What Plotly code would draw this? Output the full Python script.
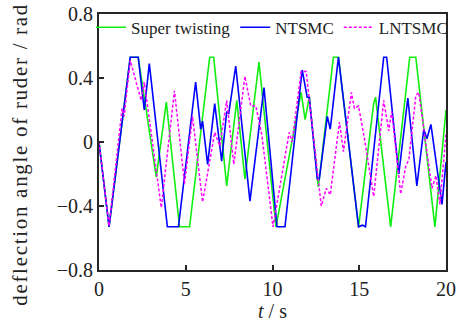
import plotly.graph_objects as go

# Super twisting (green)
t_st = [0, 0.58, 1.80, 2.26, 3.30, 3.88, 4.64, 5.22, 6.38, 6.61, 7.36, 7.94, 8.41, 9.22,
        10.20, 11.65, 11.88, 12.12, 12.64, 13.51, 13.80, 14.96, 15.83, 15.94, 16.81,
        17.91, 18.26, 19.36, 20.0]
y_st = [0, -0.53, 0.53, 0.53, -0.22, 0.25, -0.53, -0.53, 0.53, 0.53, -0.275, 0.26, -0.23, 0.50,
        -0.53, 0.31, 0.14, 0.28, -0.28, 0.53, 0.53, -0.53, 0.24, 0.28, -0.53,
        0.53, 0.53, -0.53, 0.20]

# NTSMC (blue)
t_nt = [0, 0.58, 1.80, 2.26, 2.61, 2.90, 3.94, 4.58, 5.57, 5.86, 5.97, 6.26, 6.67, 7.07,
        7.36, 7.48, 7.88, 8.70, 9.51, 10.26, 10.72, 11.71, 12.00, 12.12, 12.58, 12.70,
        13.16, 13.33, 13.80, 14.96, 15.19, 15.36, 16.41, 16.58, 17.28, 17.80, 18.32,
        18.72, 18.90, 19.13, 19.77, 20.0]
y_nt = [0, -0.53, 0.53, 0.53, 0.20, 0.49, -0.53, -0.53, 0.375, 0.08, 0.13, -0.14, 0.24, -0.12,
        0.19, 0.18, 0.475, -0.37, 0.34, -0.53, -0.53, 0.45, 0.28, 0.28, -0.23, -0.23,
        0.16, 0.08, 0.53, -0.53, -0.52, -0.53, 0.53, 0.53, -0.20, 0.275, -0.275,
        0.08, 0.02, 0.11, -0.39, -0.125]

# LNTSMC (magenta)
t_ln = [0, 0.58, 1.33, 1.45, 1.80, 2.20, 2.43, 2.61, 3.36, 3.59, 4.35, 4.93, 5.39, 5.97,
        6.67, 6.96, 7.36, 7.77, 8.41, 8.75, 9.04, 9.39, 10.03, 10.96, 11.13, 11.65, 11.94,
        12.81, 13.10, 13.33, 13.86, 14.09, 14.55, 14.72, 14.96, 15.30, 15.83, 16.41,
        16.70, 16.87, 17.39, 17.68, 17.86, 18.26, 18.43, 19.19, 19.42, 19.65, 20.0]
y_ln = [0, -0.525, 0.21, 0.16, 0.51, 0.35, 0.26, 0.375, -0.25, -0.41, 0.32, -0.26, 0.16, -0.375,
        0.06, -0.025, 0.26, -0.14, 0.41, 0.225, 0.225, 0.04, -0.53, 0.06, 0.0, 0.44, 0.44,
        -0.40, -0.29, -0.33, 0.125, -0.06, 0.31, 0.21, 0.225, 0.02, -0.34, 0.26,
        0.07, 0.19, -0.325, -0.15, -0.11, 0.29, 0.31, -0.29, -0.21, -0.39, 0.05]

x_ticks = [0, 5, 10, 15, 20]
y_ticks = [-0.8, -0.4, 0, 0.4, 0.8]
y_title = "deflection angle of ruder / rad"
x_title = "<i>t</i> / s"

FONT = "Liberation Serif"

fig = go.Figure()
fig.add_trace(go.Scatter(x=t_st, y=y_st, mode="lines", name="Super twisting",
                         line=dict(color="#11ee11", width=1.6)))
fig.add_trace(go.Scatter(x=t_nt, y=y_nt, mode="lines", name="NTSMC",
                         line=dict(color="#0000ff", width=1.6)))
fig.add_trace(go.Scatter(x=t_ln, y=y_ln, mode="lines", name="LNTSMC",
                         line=dict(color="#ff00ff", width=1.5, dash="3px,2px")))

fig.update_layout(
    width=462, height=323,
    margin=dict(l=99, r=16, t=14, b=53, autoexpand=False),
    paper_bgcolor="white", plot_bgcolor="white",
    font=dict(family=FONT, size=20, color="#222222"),
    showlegend=True,
    legend=dict(orientation="h", x=-0.023, y=1.017, xanchor="left", yanchor="top",
                font=dict(family=FONT, size=17, color="#222222"),
                bgcolor="rgba(0,0,0,0)", itemwidth=30, tracegroupgap=0,
                traceorder="normal"),
    annotations=[dict(text='<span style="letter-spacing:1.7px">' + y_title + '</span>',
                      textangle=-90, xref="paper", yref="paper",
                      x=-79 / 347, y=0.45, xanchor="center", yanchor="middle",
                      showarrow=False, font=dict(family=FONT, size=21, color="#222222"))],
)
fig.update_xaxes(range=[0, 20], tickvals=x_ticks, ticks="inside", ticklen=5,
                 tickwidth=1.5, tickcolor="#262626", automargin=False,
                 showline=True, linecolor="#262626", linewidth=1.8, mirror=True,
                 showgrid=False, zeroline=False, ticklabeloverflow="allow",
                 tickfont=dict(family=FONT, size=20),
                 title=dict(text=x_title, font=dict(family=FONT, size=20), standoff=0))
fig.update_yaxes(range=[-0.8, 0.8], tickvals=y_ticks, ticks="inside", ticklen=5,
                 tickwidth=1.5, tickcolor="#262626", automargin=False,
                 showline=True, linecolor="#262626", linewidth=1.8, mirror=True,
                 showgrid=False, zeroline=False, ticklabeloverflow="allow",
                 tickfont=dict(family=FONT, size=20))

fig.write_html("out.html", config={"displayModeBar": False},
               post_script="document.body.style.margin='0';document.body.style.overflow='hidden';")
